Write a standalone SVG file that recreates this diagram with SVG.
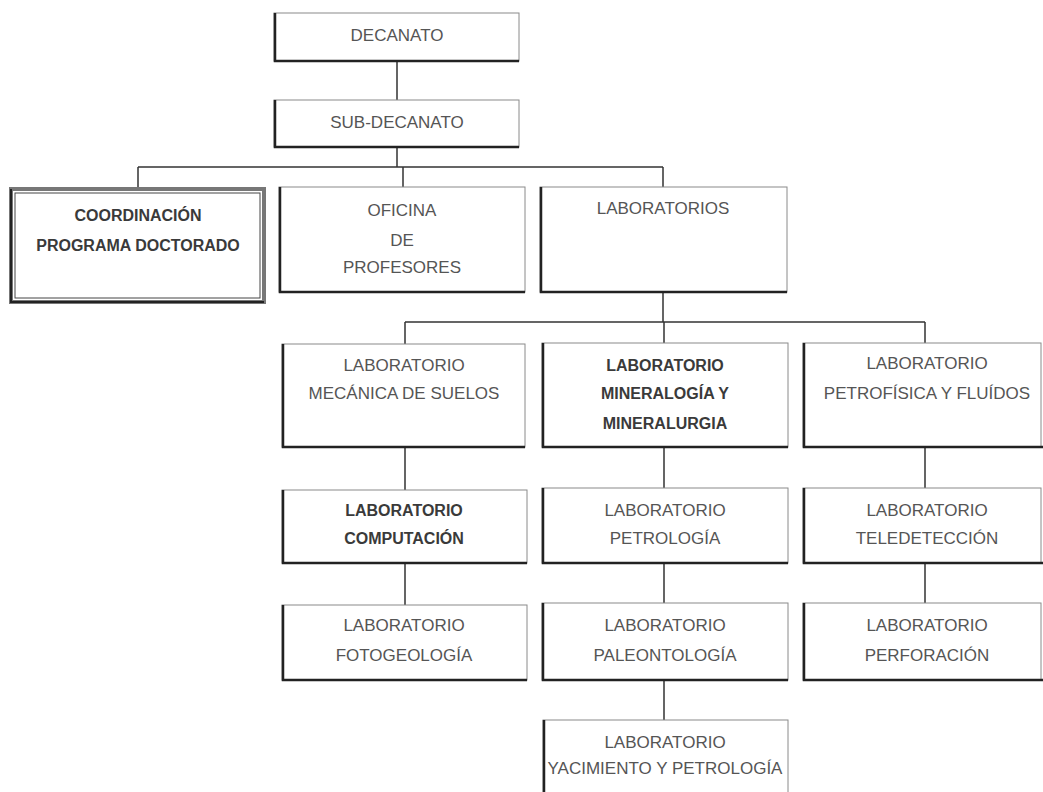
<svg xmlns="http://www.w3.org/2000/svg" width="1043" height="792" viewBox="0 0 1043 792">
<style>
.bx{fill:#fff;stroke:#8a8a8a;stroke-width:1}
.sh{fill:none;stroke:#222;stroke-width:2.5}
.t{font-family:"Liberation Sans",Arial,sans-serif;font-size:17px;fill:#555;text-anchor:middle}
.b{font-weight:bold;font-size:16px;fill:#3a3a3a}
.c{fill:none;stroke:#333;stroke-width:1.5}
</style>
<rect width="1043" height="792" fill="#fff"/>
<g id="connectors">
<path class="c" d="M397 61V100M397 147V167M138 167H663M138 167V188M403 167V187M663 167V187M663 292V322M405 322H925M405 322V344M664 322V343M925 322V343M405 447V490M664 447V488M925 447V488M405 563V605M664 563V603M925 563V603M664 680V720"/>
</g>
<g id="decanato">
<rect class="bx" x="274" y="13" width="245" height="48"/>
<path class="sh" d="M275 13V61H519"/>
<text class="t" x="397" y="41">DECANATO</text>
</g>
<g id="subdecanato">
<rect class="bx" x="274" y="100" width="245" height="47"/>
<path class="sh" d="M275 100V147H519"/>
<text class="t" x="397" y="128">SUB-DECANATO</text>
</g>
<g id="coordinacion">
<rect x="11" y="189" width="253" height="113" fill="#fff" stroke="#777" stroke-width="4"/>
<rect x="15" y="193" width="245" height="105" fill="none" stroke="#444" stroke-width="1"/>
<path d="M11 189V302H264" fill="none" stroke="#222" stroke-width="2"/>
<text class="t b" x="138" y="221">COORDINACIÓN</text>
<text class="t b" x="138" y="251">PROGRAMA DOCTORADO</text>
</g>
<g id="oficina">
<rect class="bx" x="279" y="187" width="246" height="105"/>
<path class="sh" d="M280 187V292H525"/>
<text class="t" x="402" y="216">OFICINA</text>
<text class="t" x="402" y="246">DE</text>
<text class="t" x="402" y="273">PROFESORES</text>
</g>
<g id="laboratorios">
<rect class="bx" x="540" y="187" width="247" height="105"/>
<path class="sh" d="M541 187V292H787"/>
<text class="t" x="663" y="214">LABORATORIOS</text>
</g>
<g id="mecanica">
<rect class="bx" x="282" y="344" width="243" height="103"/>
<path class="sh" d="M283 344V447H525"/>
<text class="t" x="404" y="371">LABORATORIO</text>
<text class="t" x="404" y="399">MECÁNICA DE SUELOS</text>
</g>
<g id="mineralogia">
<rect class="bx" x="542" y="343" width="246" height="104"/>
<path class="sh" d="M543 343V447H788"/>
<text class="t b" x="665" y="371">LABORATORIO</text>
<text class="t b" x="665" y="399">MINERALOGÍA Y</text>
<text class="t b" x="665" y="429">MINERALURGIA</text>
</g>
<g id="petrofisica">
<rect class="bx" x="803" y="343" width="238" height="104"/>
<path class="sh" d="M804 343V447H1043"/>
<text class="t" x="927" y="369">LABORATORIO</text>
<text class="t" x="927" y="399">PETROFÍSICA Y FLUÍDOS</text>
</g>
<g id="computacion">
<rect class="bx" x="282" y="490" width="245" height="73"/>
<path class="sh" d="M283 490V563H527"/>
<text class="t b" x="404" y="516">LABORATORIO</text>
<text class="t b" x="404" y="544">COMPUTACIÓN</text>
</g>
<g id="petrologia">
<rect class="bx" x="542" y="488" width="246" height="75"/>
<path class="sh" d="M543 488V563H788"/>
<text class="t" x="665" y="516">LABORATORIO</text>
<text class="t" x="665" y="544">PETROLOGÍA</text>
</g>
<g id="teledeteccion">
<rect class="bx" x="803" y="488" width="238" height="75"/>
<path class="sh" d="M804 488V563H1043"/>
<text class="t" x="927" y="516">LABORATORIO</text>
<text class="t" x="927" y="544">TELEDETECCIÓN</text>
</g>
<g id="fotogeologia">
<rect class="bx" x="282" y="605" width="245" height="75"/>
<path class="sh" d="M283 605V680H527"/>
<text class="t" x="404" y="631">LABORATORIO</text>
<text class="t" x="404" y="661">FOTOGEOLOGÍA</text>
</g>
<g id="paleontologia">
<rect class="bx" x="542" y="603" width="246" height="77"/>
<path class="sh" d="M543 603V680H788"/>
<text class="t" x="665" y="631">LABORATORIO</text>
<text class="t" x="665" y="661">PALEONTOLOGÍA</text>
</g>
<g id="perforacion">
<rect class="bx" x="803" y="603" width="238" height="77"/>
<path class="sh" d="M804 603V680H1043"/>
<text class="t" x="927" y="631">LABORATORIO</text>
<text class="t" x="927" y="661">PERFORACIÓN</text>
</g>
<g id="yacimiento">
<rect class="bx" x="543" y="720" width="245" height="80"/>
<path class="sh" d="M544 720V800"/>
<text class="t" x="665" y="748">LABORATORIO</text>
<text class="t" x="665" y="774">YACIMIENTO Y PETROLOGÍA</text>
</g>
</svg>
